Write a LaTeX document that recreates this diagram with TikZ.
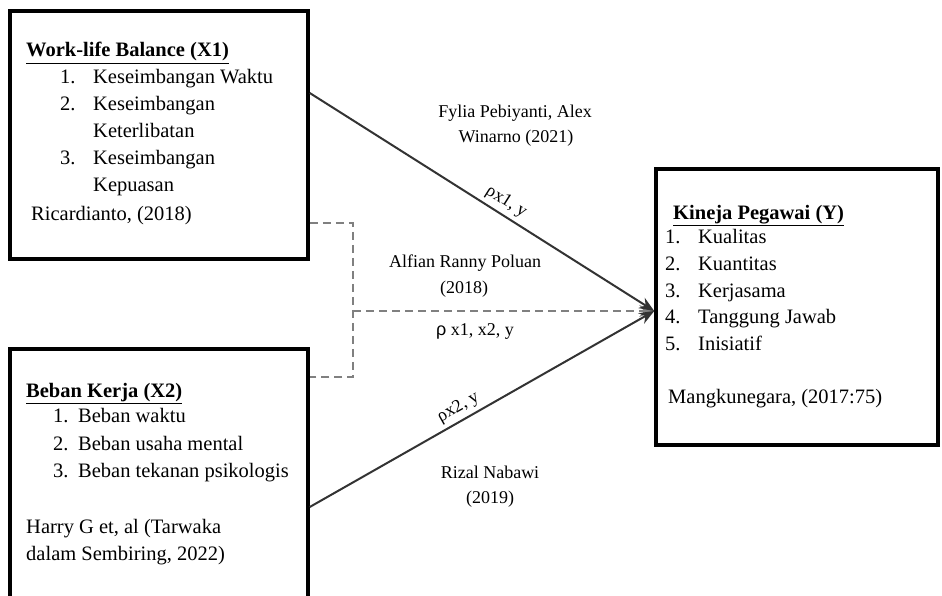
\documentclass[tikz,border=0pt]{standalone}
\usepackage{fontspec}
\setmainfont{Liberation Serif}
\newfontfamily\rhofont{Liberation Sans}
\usetikzlibrary{arrows.meta}
\tikzset{
	box/.style={draw, line width=3.5pt, inner sep=0pt},
	txt/.style={anchor=base west, inner sep=0pt, font=\fontsize{20.5}{27}\selectfont},
	lbl/.style={anchor=base, inner sep=0pt, font=\fontsize{18}{25}\selectfont},
	slope/.style={sloped, above, inner sep=4pt, font=\fontsize{18}{20}\selectfont},
	link/.style={line width=2pt, draw=black!80, -{Stealth[length=15pt,width=12pt]}},
	dashline/.style={draw=gray, line width=1.5pt, dash pattern=on 8pt off 5pt},
}
\newcommand{\rh}{{\rhofont ρ}}
\begin{document}
\begin{tikzpicture}[x=1pt,y=-1pt]
		\useasboundingbox (0,0) rectangle (942,596);
		\clip (0,0) rectangle (942,596);
		%--
		\node[box, minimum width=298pt, minimum height=248pt] (x1) at (159,135) {};
		\node[box, minimum width=298pt, minimum height=261pt] (x2) at (159,479.5) {};
		\node[box, minimum width=282pt, minimum height=276pt] (y) at (797,307) {};
		%--
		\node[txt] (x1t) at (26,57) {\underline{\textbf{Work-life Balance (X1)}}};
		\node[txt] (x1a) at (60,84) {\makebox[33pt][l]{1.}Keseimbangan Waktu};
		\node[txt] (x1b) at (60,111) {\makebox[33pt][l]{2.}Keseimbangan};
		\node[txt] (x1b') at (93,138) {Keterlibatan};
		\node[txt] (x1c) at (60,165) {\makebox[33pt][l]{3.}Keseimbangan};
		\node[txt] (x1c') at (93,192) {Kepuasan};
		\node[txt] (x1s) at (31,220) {Ricardianto, (2018)};
		%--
		\node[txt] (x2t) at (26,397) {\underline{\textbf{Beban Kerja (X2)}}};
		\node[txt] (x2a) at (53,422) {\makebox[25pt][l]{1.}Beban waktu};
		\node[txt] (x2b) at (53,450) {\makebox[25pt][l]{2.}Beban usaha mental};
		\node[txt] (x2c) at (53,477) {\makebox[25pt][l]{3.}Beban tekanan psikologis};
		\node[txt] (x2s) at (26,533) {Harry G et, al (Tarwaka};
		\node[txt] (x2s') at (26,560) {dalam Sembiring, 2022)};
		%--
		\node[txt] (yt) at (673,219) {\underline{\textbf{Kineja Pegawai (Y)}}};
		\node[txt] (ya) at (665,243) {\makebox[33pt][l]{1.}Kualitas};
		\node[txt] (yb) at (665,270) {\makebox[33pt][l]{2.}Kuantitas};
		\node[txt] (yc) at (665,297) {\makebox[33pt][l]{3.}Kerjasama};
		\node[txt] (yd) at (665,323) {\makebox[33pt][l]{4.}Tanggung Jawab};
		\node[txt] (ye) at (665,350) {\makebox[33pt][l]{5.}Inisiatif};
		\node[txt] (ys) at (668,403) {Mangkunegara, (2017:75)};
		%--
		\node[lbl] (r1) at (515,118) {Fylia Pebiyanti, Alex};
		\node[lbl] (r1') at (516,143) {Winarno (2021)};
		\node[lbl] (r2) at (465,267) {Alfian Ranny Poluan};
		\node[lbl] (r2') at (464,293) {(2018)};
		\node[lbl] (r3) at (475,335) {\rh{} x1, x2, y};
		\node[lbl] (r4) at (490,478) {Rizal Nabawi};
		\node[lbl] (r4') at (490,503) {(2019)};
		%--
		\coordinate (j) at (353,311);
		\draw[dashline] (x1.east |- 0,223) -| (j) |- (x2.east |- 0,377);
		\draw[dashline, link, draw=gray] (j) -- (y.west |- j);
		\draw[link] (x1.east |- 0,93) -- node[slope, pos=.55] (p1) {ρx1, y} (y.west |- j);
		\draw[link] (x2.east |- 0,507) -- node[slope, pos=.45] (p2) {ρx2, y} (y.west |- j);
	\end{tikzpicture}
\end{document}
